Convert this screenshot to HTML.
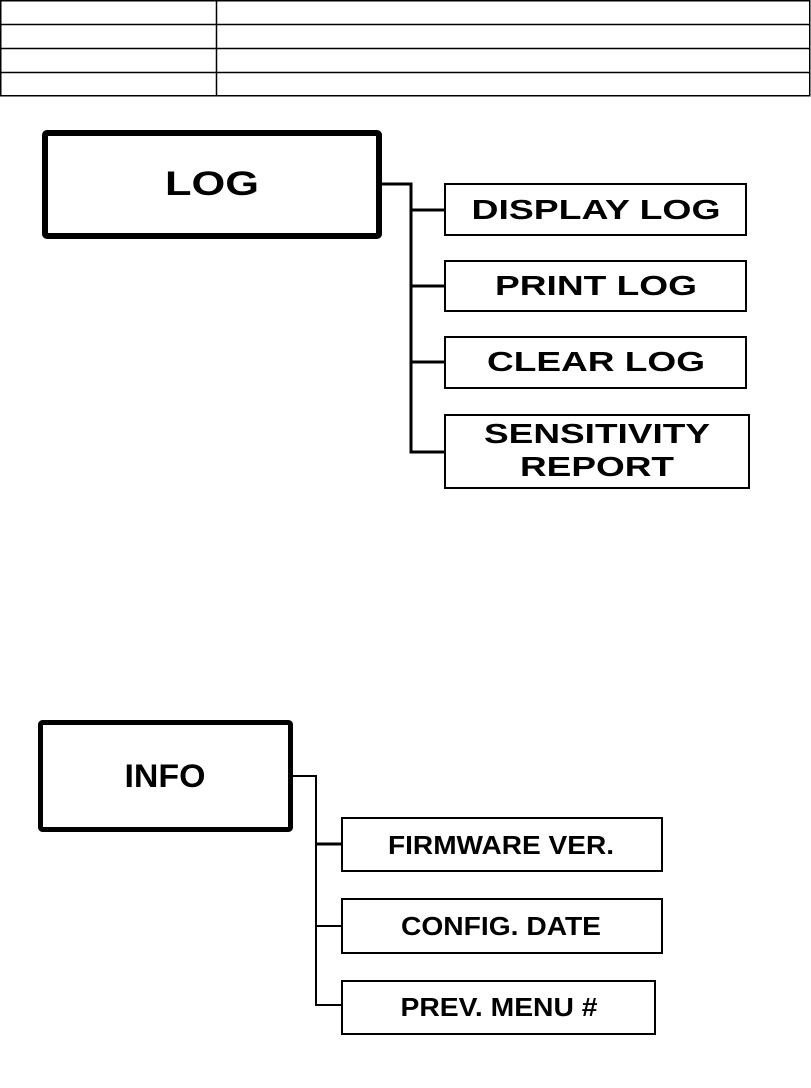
<!DOCTYPE html>
<html><head><style>html,body{margin:0;padding:0;background:#fff}</style></head><body>
<svg width="811" height="1083" xmlns="http://www.w3.org/2000/svg" font-family="Liberation Sans, sans-serif" font-weight="bold">
<g stroke="#000" stroke-width="1.5" fill="none">
<rect x="0.75" y="0.75" width="809" height="95"/>
<line x1="0" y1="24.5" x2="810" y2="24.5"/>
<line x1="0" y1="48.5" x2="810" y2="48.5"/>
<line x1="0" y1="72.5" x2="810" y2="72.5"/>
<line x1="216.5" y1="0" x2="216.5" y2="96"/>
</g>
<g fill="none" stroke="#000">
<rect x="45" y="133" width="334" height="103" stroke-width="6" rx="2"/>
<polyline points="382,184 411,184 411,452 445,452" stroke-width="3"/>
<line x1="411" y1="210" x2="445" y2="210" stroke-width="3"/>
<line x1="411" y1="286" x2="445" y2="286" stroke-width="3"/>
<line x1="411" y1="362" x2="445" y2="362" stroke-width="3"/>
<rect x="445" y="184" width="301" height="51" stroke-width="2"/>
<rect x="445" y="261" width="301" height="50" stroke-width="2"/>
<rect x="445" y="337" width="301" height="51" stroke-width="2"/>
<rect x="445" y="415" width="304" height="73" stroke-width="2"/>
<rect x="40.5" y="722.5" width="250" height="107" stroke-width="5" rx="2"/>
<polyline points="293,776 316,776 316,1005 342,1005" stroke-width="2"/>
<line x1="316" y1="844" x2="342" y2="844" stroke-width="3"/>
<line x1="316" y1="926" x2="342" y2="926" stroke-width="2"/>
<rect x="342" y="818" width="320" height="53" stroke-width="2"/>
<rect x="342" y="899" width="320" height="54" stroke-width="2"/>
<rect x="342" y="981" width="313" height="53" stroke-width="2"/>
</g>
<g fill="#000" text-anchor="middle">
<text x="212" y="195" font-size="34" textLength="94" lengthAdjust="spacingAndGlyphs">LOG</text>
<text x="596" y="219" font-size="28" textLength="249" lengthAdjust="spacingAndGlyphs">DISPLAY LOG</text>
<text x="596" y="295" font-size="28" textLength="202" lengthAdjust="spacingAndGlyphs">PRINT LOG</text>
<text x="596" y="371" font-size="28" textLength="218" lengthAdjust="spacingAndGlyphs">CLEAR LOG</text>
<text x="597" y="443" font-size="28" textLength="226" lengthAdjust="spacingAndGlyphs">SENSITIVITY</text>
<text x="597" y="476" font-size="28" textLength="154" lengthAdjust="spacingAndGlyphs">REPORT</text>
<text x="165" y="787" font-size="32" textLength="81" lengthAdjust="spacingAndGlyphs">INFO</text>
<text x="501" y="854" font-size="26" textLength="226" lengthAdjust="spacingAndGlyphs">FIRMWARE VER.</text>
<text x="501" y="935" font-size="26" textLength="200" lengthAdjust="spacingAndGlyphs">CONFIG. DATE</text>
<text x="499" y="1016" font-size="26" textLength="197" lengthAdjust="spacingAndGlyphs">PREV. MENU #</text>
</g>
</svg>
</body></html>
